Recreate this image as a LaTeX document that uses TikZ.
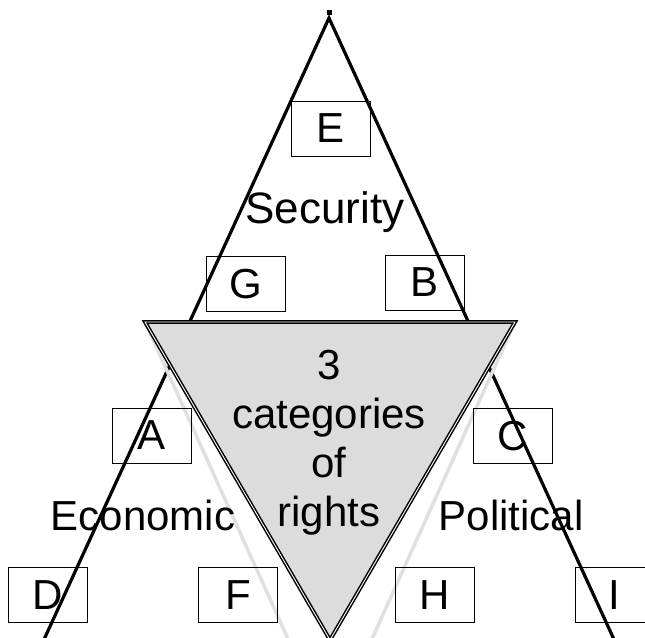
\documentclass[tikz,border=0pt]{standalone}
\usepackage{fontspec}
\setsansfont{Liberation Sans}
\usetikzlibrary{positioning}
\definecolor{panel}{RGB}{220,220,220}
\definecolor{sidegray}{RGB}{224,224,224}

\begin{document}
\begin{tikzpicture}[x=1pt,y=-1pt,font=\sffamily\fontsize{42}{49}\selectfont]
\tikzstyle{box}=[draw,line width=1pt,minimum width=79pt,minimum height=55pt,inner sep=0pt]
\tikzstyle{edge}=[line width=3.2pt]
\tikzstyle{side}=[draw=sidegray,line width=3.5pt]
\useasboundingbox (0,0) rectangle (645,637);
\clip (0,0) rectangle (645,637);
\coordinate (top) at (329,18);
\coordinate (bl) at (8,718);
\coordinate (br) at (650,718);
\coordinate (ul) at (145,322);
\coordinate (ur) at (515,322);
\coordinate (tip) at (330,640);
\coordinate (gl) at (293,650);
\coordinate (gr) at (367,650);
% big triangle
\fill (326.5,10) rectangle (331.5,15);
\draw[edge] (bl) -- (top) -- (br);
% light sides under the middle
\draw[side] (ul) -- (gl);
\draw[side] (ur) -- (gr);
% middle triangle
\draw[fill=panel,double,line width=1.5pt,double distance=0.9pt] (ul) -- (ur) -- (tip) -- cycle;
\node[align=center,inner sep=0pt] (mid) at (329,443) {3\\categories\\of\\rights};
% labels
\node[anchor=base,font=\sffamily\fontsize{44}{49}\selectfont] (sec) at (325,223) {Security};
\node[anchor=base] (eco) at (143,530) {Economic};
\node[anchor=base] (pol) at (511,530) {Political};
% boxes
\node[box] (e) at (330.5,128.5) {E};
\node[box] (g) at (245.5,284) {G};
\node[box] (b) at (425,282.5) {B};
\node[box] (a) at (151.5,435.5) {A};
\node[box] (c) at (512.5,436) {C};
\node[box] (d) at (48,595) {D};
\node[box] (f) at (238,595) {F};
\node[box] (h) at (434.5,595) {H};
\node[box] (i) at (614.5,595) {I};
\end{tikzpicture}
\end{document}
